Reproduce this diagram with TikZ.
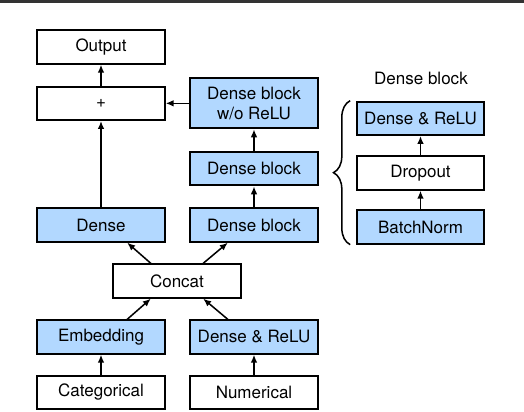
\documentclass[tikz,border=0pt]{standalone}
\usepackage{fontspec}
\setmainfont{TeX Gyre Heros}
\usepackage{xcolor}
\usepackage{tikz}
\usetikzlibrary{calc, arrows.meta, positioning, decorations.pathreplacing}
\definecolor{layerblue}{RGB}{178,216,255}

\begin{document}
\begin{tikzpicture}[auto, >={Latex[length=2.4mm, width=2mm]}, font=\fontsize{14.5}{17}\selectfont]
	\tikzstyle{layer} = [draw=black, line width=1.7pt, rectangle, minimum width=3.82cm, minimum height=1cm, inner sep=0pt, align=center]
	\tikzstyle{filled} = [layer, fill=layerblue]
	\tikzstyle{invis} = [draw=none]
	\useasboundingbox (0,0) rectangle (15.72,-12.36);
	\fill[black!80] (0,0) rectangle (15.72,-0.09);
	
	\node[layer]		at (3.03, -1.41)	(out)	{Output};
	\node[layer]		at (3.03, -3.1)		(add)	{+};
	\node[filled, minimum height=1.5cm]	at (7.62, -3.1)	(dbr)	{Dense block\\w/o ReLU};
	\node[filled]		at (7.62, -5.06)	(db2)	{Dense block};
	\node[filled]		at (3.03, -6.75)	(dense)	{Dense};
	\node[filled]		at (7.62, -6.75)	(db1)	{Dense block};
	\node[layer]		at (5.31, -8.43)	(cat)	{Concat};
	\node[filled]		at (3.03, -10.11)	(emb)	{Embedding};
	\node[filled]		at (7.62, -10.11)	(dr)	{Dense \& ReLU};
	\node[layer]		at (3.03, -11.775)	(categ)	{Categorical};
	\node[layer]		at (7.62, -11.775)	(num)	{Numerical};
	\node[invis]		at (12.63, -2.34)	(title)	{Dense block};
	\node[filled]		at (12.615, -3.55)	(bdr)	{Dense \& ReLU};
	\node[layer]		at (12.615, -5.19)	(bdrop)	{Dropout};
	\node[filled]		at (12.615, -6.81)	(bbn)	{BatchNorm};
	
	\path[->, line width=1.3pt]
	(add)		edge		node	{}	(out)
	(dbr)		edge		node	{}	(add)
	(db2)		edge		node	{}	(dbr)
	(db1)		edge		node	{}	(db2)
	(dense)		edge		node	{}	(add)
	(cat.146)	edge		node	{}	(dense.326)
	(cat.34)	edge		node	{}	(db1.214)
	(emb.34)	edge		node	{}	(cat.214)
	(dr.146)	edge		node	{}	(cat.326)
	(categ)		edge		node	{}	(emb)
	(num)		edge		node	{}	(dr)
	(bbn)		edge		node	{}	(bdrop)
	(bdrop)		edge		node	{}	(bdr);
	
	\draw[line width=1.3pt, decorate, decoration={brace, amplitude=0.5cm}]
	([xshift=-0.17cm]bbn.south west) -- ([xshift=-0.17cm]bdr.north west);
\end{tikzpicture}
\end{document}
